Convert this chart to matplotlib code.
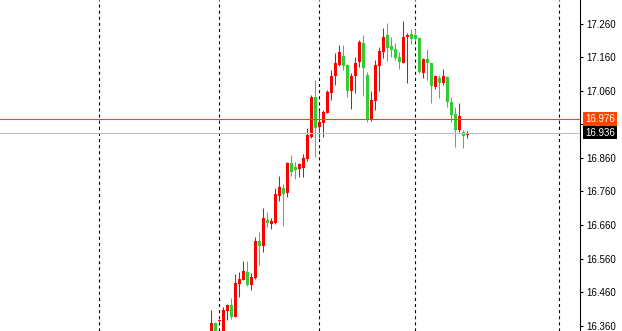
import numpy as np
import matplotlib
matplotlib.use("Agg")
import matplotlib.pyplot as plt
from matplotlib.transforms import blended_transform_factory

# Velas (OHLC), de izquierda a derecha
aperturas = [16.338, 16.367, 16.373, 16.338, 16.403, 16.420, 16.386, 16.485, 16.497, 16.520,
             16.481, 16.501, 16.612, 16.598, 16.675, 16.664, 16.665, 16.747, 16.770, 16.756,
             16.844, 16.832, 16.828, 16.829, 16.857, 16.922, 17.041, 16.953, 16.965, 16.995,
             17.055, 17.105, 17.138, 17.164, 17.138, 17.061, 17.105, 17.147, 17.202, 17.108,
             16.976, 17.031, 17.136, 17.177, 17.227, 17.194, 17.185, 17.161, 17.145, 17.222,
             17.230, 17.227, 17.219, 17.115, 17.155, 17.144, 17.073, 17.100, 17.083, 17.102,
             17.028, 16.990, 16.945, 16.939, 16.930]
maximos = [16.406, 16.370, 16.376, 16.414, 16.424, 16.442, 16.514, 16.520, 16.553, 16.553,
           16.516, 16.625, 16.640, 16.711, 16.699, 16.681, 16.770, 16.806, 16.782, 16.848,
           16.869, 16.848, 16.845, 16.872, 16.950, 17.048, 17.093, 17.003, 17.003, 17.063,
           17.123, 17.173, 17.197, 17.197, 17.141, 17.113, 17.161, 17.212, 17.227, 17.118,
           17.061, 17.153, 17.192, 17.248, 17.263, 17.222, 17.203, 17.176, 17.269, 17.233,
           17.245, 17.245, 17.222, 17.159, 17.185, 17.147, 17.108, 17.108, 17.125, 17.106,
           17.041, 17.013, 17.025, 16.944, 16.941]
minimos = [16.335, 16.335, 16.370, 16.335, 16.376, 16.378, 16.385, 16.446, 16.496, 16.478,
           16.466, 16.499, 16.541, 16.580, 16.655, 16.649, 16.663, 16.732, 16.657, 16.744,
           16.806, 16.797, 16.803, 16.803, 16.851, 16.920, 16.863, 16.920, 16.923, 16.994,
           17.033, 17.078, 17.135, 17.123, 17.041, 17.005, 17.055, 17.133, 17.045, 16.968,
           16.970, 17.003, 17.060, 17.159, 17.150, 17.161, 17.153, 17.126, 17.144, 17.083,
           17.200, 17.209, 17.114, 17.100, 17.093, 17.023, 17.065, 17.040, 17.078, 17.011,
           16.968, 16.894, 16.939, 16.889, 16.921]
cierres = [16.368, 16.338, 16.375, 16.406, 16.420, 16.386, 16.486, 16.499, 16.523, 16.480,
           16.505, 16.612, 16.598, 16.681, 16.667, 16.672, 16.753, 16.773, 16.753, 16.845,
           16.819, 16.824, 16.842, 16.859, 16.929, 17.043, 16.949, 16.968, 16.998, 17.058,
           17.105, 17.144, 17.177, 17.135, 17.061, 17.105, 17.144, 17.207, 17.130, 16.976,
           17.033, 17.138, 17.180, 17.222, 17.189, 17.182, 17.159, 17.147, 17.221, 17.227,
           17.214, 17.215, 17.118, 17.155, 17.143, 17.076, 17.105, 17.085, 17.105, 17.026,
           16.988, 16.945, 16.985, 16.927, 16.936]

# Separadores de periodo (índice de barra) y líneas de precio
separadores = [-28, 2, 27, 51, 87]
precio_ask = 16.976
precio_bid = 16.936
ticks_precio = [16.360, 16.460, 16.560, 16.660, 16.760, 16.860, 16.960, 17.060, 17.160, 17.260]

ROJO = "#FF0000"
VERDE = "#32CD32"


def dibujar_velas(ax):
    """Cuerpos y mechas; rojo = alcista, verde = bajista."""
    x = np.arange(len(aperturas))
    o = np.array(aperturas)
    c = np.array(cierres)
    colores = [ROJO if ci >= oi else VERDE for oi, ci in zip(o, c)]
    ax.vlines(x, minimos, maximos, colors=colores, linewidth=0.75, zorder=3)
    altura = np.where(np.abs(c - o) < 0.001, 0.0015, c - o)
    ax.bar(x, altura, bottom=o, width=0.75, color=colores, linewidth=0, zorder=4)


def main():
    plt.rcParams["font.family"] = ["Liberation Sans", "DejaVu Sans"]
    plt.rcParams["lines.scale_dashes"] = False

    fig = plt.figure(figsize=(6.22, 3.31), dpi=100)
    ax = fig.add_axes([0, 0, 580 / 622, 1])

    # Escala: barra i en x = 211 + 4*i píxeles
    ax.set_xlim(-52.75, 92.25)
    ax.set_ylim(16.3436, 17.3316)

    for s in separadores:
        ax.axvline(s, color="black", linewidth=0.8, dashes=(2.2, 2.2), zorder=1)

    dibujar_velas(ax)

    ax.axhline(precio_ask, color="#FF4500", linewidth=0.8, zorder=5)
    ax.axhline(precio_bid, color="#C0C0C0", linewidth=0.8, zorder=5)

    for lado in ["top", "left", "bottom"]:
        ax.spines[lado].set_visible(False)
    ax.spines["right"].set_linewidth(0.8)
    ax.set_xticks([])
    ax.yaxis.tick_right()
    ax.set_yticks(ticks_precio)
    # la etiqueta 16.960 queda tapada por las cajas de precio
    etiquetas = ["" if abs(t - 16.960) < 1e-6 else f"{t:.3f}" for t in ticks_precio]
    ax.set_yticklabels(etiquetas)
    ax.tick_params(axis="y", length=2, width=0.8, pad=2.5, labelsize=7, colors="black")

    # Etiquetas de precio actuales en el eje
    trans = blended_transform_factory(fig.transFigure, ax.transData)
    ax.text(600 / 622, precio_ask, f"{precio_ask:.3f}", transform=trans, ha="center", va="center",
            fontsize=7, color="white", zorder=10, clip_on=False,
            bbox=dict(boxstyle="square,pad=0.2", fc="#FF4500", ec="none"))
    ax.text(600 / 622, precio_bid, f"{precio_bid:.3f}", transform=trans, ha="center", va="center",
            fontsize=7, color="white", zorder=10, clip_on=False,
            bbox=dict(boxstyle="square,pad=0.2", fc="black", ec="none"))

    fig.savefig("out.png", dpi=100)
    plt.close(fig)


if __name__ == "__main__":
    main()
